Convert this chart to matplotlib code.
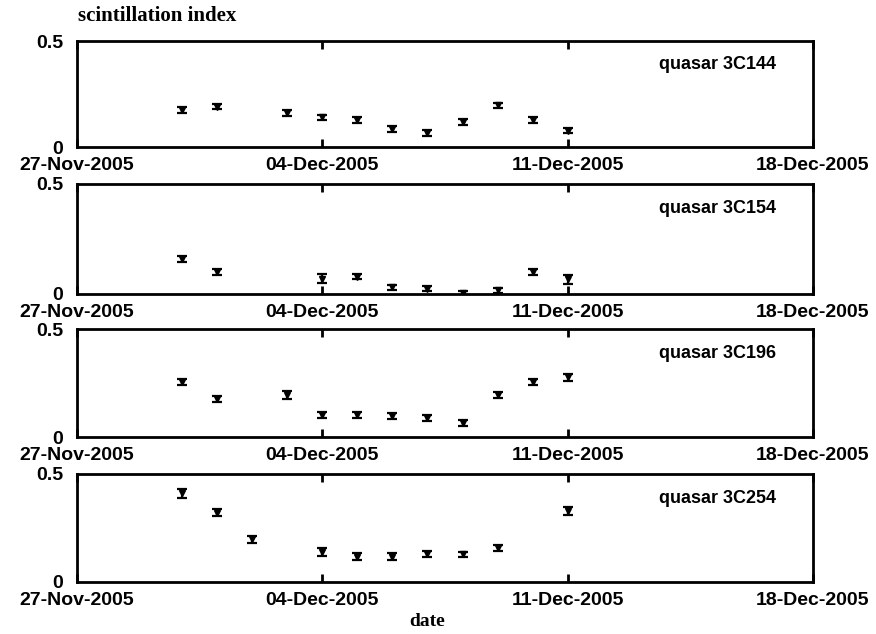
import matplotlib
matplotlib.use("Agg")
import matplotlib.pyplot as plt
import numpy as np
import datetime as dt

# ---- data ----
dates_144 = ["2005-11-30", "2005-12-01", "2005-12-03", "2005-12-04", "2005-12-05", "2005-12-06",
             "2005-12-07", "2005-12-08", "2005-12-09", "2005-12-10", "2005-12-11"]
vals_144 = [0.175, 0.19, 0.16, 0.14, 0.127, 0.085, 0.067, 0.12, 0.197, 0.127, 0.077]
err_144 = [0.015, 0.013, 0.013, 0.013, 0.015, 0.012, 0.014, 0.014, 0.012, 0.014, 0.013]

dates_154 = ["2005-11-30", "2005-12-01", "2005-12-04", "2005-12-05", "2005-12-06",
             "2005-12-07", "2005-12-08", "2005-12-09", "2005-12-10", "2005-12-11"]
vals_154 = [0.159, 0.099, 0.07, 0.079, 0.03, 0.024, 0.004, 0.016, 0.1, 0.066]
err_154 = [0.013, 0.013, 0.02, 0.012, 0.013, 0.012, 0.008, 0.01, 0.013, 0.02]

dates_196 = ["2005-11-30", "2005-12-01", "2005-12-03", "2005-12-04", "2005-12-05", "2005-12-06",
             "2005-12-07", "2005-12-08", "2005-12-09", "2005-12-10", "2005-12-11"]
vals_196 = [0.256, 0.176, 0.194, 0.102, 0.102, 0.097, 0.087, 0.066, 0.194, 0.256, 0.276]
err_196 = [0.014, 0.013, 0.018, 0.013, 0.013, 0.014, 0.015, 0.014, 0.015, 0.013, 0.016]

dates_254 = ["2005-11-30", "2005-12-01", "2005-12-02", "2005-12-04", "2005-12-05", "2005-12-06",
             "2005-12-07", "2005-12-08", "2005-12-09", "2005-12-11"]
vals_254 = [0.41, 0.321, 0.198, 0.14, 0.117, 0.117, 0.128, 0.128, 0.159, 0.329]
err_254 = [0.02, 0.015, 0.017, 0.018, 0.017, 0.017, 0.014, 0.012, 0.014, 0.017]

names = ["quasar 3C144", "quasar 3C154", "quasar 3C196", "quasar 3C254"]
tick_dates = ["2005-11-27", "2005-12-04", "2005-12-11", "2005-12-18"]
tick_labels = ["27-Nov-2005", "04-Dec-2005", "11-Dec-2005", "18-Dec-2005"]
y_ticks = [0, 0.5]
y_ticklabels = ["0", "0.5"]

series = [(dates_144, vals_144, err_144), (dates_154, vals_154, err_154),
          (dates_196, vals_196, err_196), (dates_254, vals_254, err_254)]

W, H = 876, 634
fig = plt.figure(figsize=(W / 100, H / 100), dpi=100)

# panel pixel boxes (top, bottom)
boxes = [(41, 147), (184, 294), (329, 437), (474, 582)]
left_px, right_px = 77, 813

to_dt = lambda s: dt.datetime.strptime(s, "%Y-%m-%d")
tick_font = dict(family="Liberation Sans", weight="bold", size=14)

for i, ((top, bot), (d, v, e), name) in enumerate(zip(boxes, series, names)):
    ax = fig.add_axes([left_px / W, 1 - bot / H, (right_px - left_px) / W, (bot - top) / H])
    x = [to_dt(s) for s in d]
    ax.errorbar(x, v, yerr=e, fmt="v", color="black", ms=5, elinewidth=1.6,
                capsize=3.5, capthick=1.6)
    ax.set_xlim(to_dt(tick_dates[0]), to_dt(tick_dates[-1]))
    ax.set_ylim(0, 0.5)
    ax.set_xticks([to_dt(s) for s in tick_dates])
    ax.set_xticklabels(tick_labels, **tick_font)
    ax.set_yticks(y_ticks)
    ax.set_yticklabels(y_ticklabels, **tick_font)
    ax.tick_params(axis="x", direction="in", length=6, width=2, top=True, pad=7)
    ax.tick_params(axis="y", direction="in", length=0, width=2, pad=10)
    for sp in ax.spines.values():
        sp.set_linewidth(2)
    ax.text((718 - left_px) / (right_px - left_px), 0.775,
            name, transform=ax.transAxes, ha="center", va="center",
            family="Liberation Sans", weight="bold", fontsize=13)

fig.text(78 / W, 1 - 16 / H, "scintillation index", ha="left", va="center",
         family="Liberation Serif", weight="bold", fontsize=15)
fig.text(427 / W, 1 - 622 / H, "date", ha="center", va="center",
         family="Liberation Serif", weight="bold", fontsize=14)

fig.savefig("out.png", dpi=100)
